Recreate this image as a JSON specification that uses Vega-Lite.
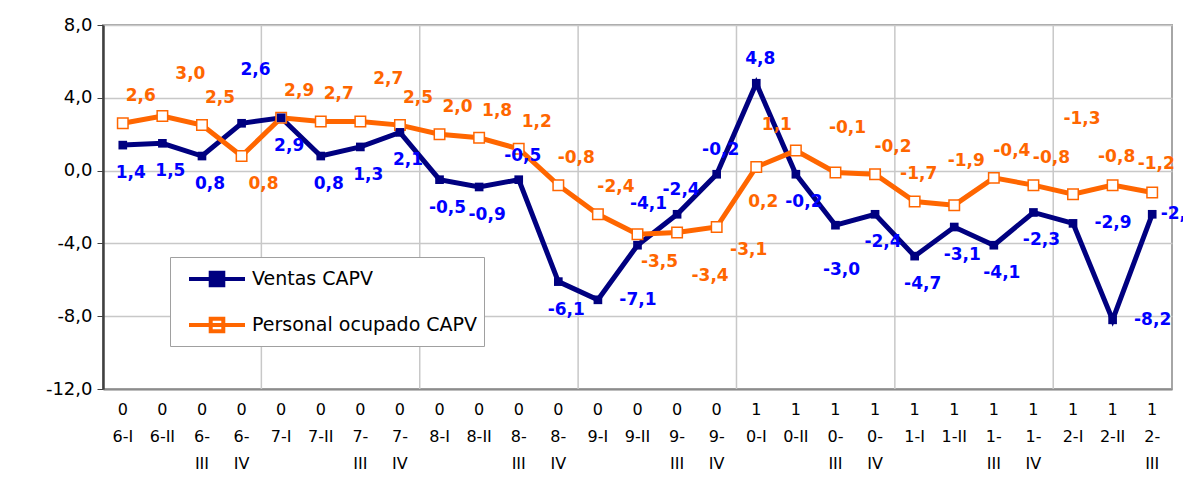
{
  "$schema": "https://vega.github.io/schema/vega-lite/v6.json",
  "width": 1069,
  "height": 364,
  "autosize": "none",
  "padding": {"left": 103, "top": 25, "right": 11, "bottom": 94},
  "background": "white",
  "config": {
    "locale": {"number": {"decimal": ",", "thousands": ".", "grouping": [3], "currency": ["", " €"], "minus": "-"}},
    "view": {"stroke": "#a6a6a6", "strokeWidth": 2},
    "font": "DejaVu Sans",
    "axis": {"labelFont": "DejaVu Sans", "labelColor": "#000000"},
    "text": {"font": "DejaVu Sans", "fontWeight": "bold", "fontSize": 17}
  },
  "data": {
    "values": [
      {"q": "06-I", "Ventas CAPV": 1.4, "Personal ocupado CAPV": 2.6},
      {"q": "06-II", "Ventas CAPV": 1.5, "Personal ocupado CAPV": 3.0},
      {"q": "06-III", "Ventas CAPV": 0.8, "Personal ocupado CAPV": 2.5},
      {"q": "06-IV", "Ventas CAPV": 2.6, "Personal ocupado CAPV": 0.8},
      {"q": "07-I", "Ventas CAPV": 2.9, "Personal ocupado CAPV": 2.9},
      {"q": "07-II", "Ventas CAPV": 0.8, "Personal ocupado CAPV": 2.7},
      {"q": "07-III", "Ventas CAPV": 1.3, "Personal ocupado CAPV": 2.7},
      {"q": "07-IV", "Ventas CAPV": 2.1, "Personal ocupado CAPV": 2.5},
      {"q": "08-I", "Ventas CAPV": -0.5, "Personal ocupado CAPV": 2.0},
      {"q": "08-II", "Ventas CAPV": -0.9, "Personal ocupado CAPV": 1.8},
      {"q": "08-III", "Ventas CAPV": -0.5, "Personal ocupado CAPV": 1.2},
      {"q": "08-IV", "Ventas CAPV": -6.1, "Personal ocupado CAPV": -0.8},
      {"q": "09-I", "Ventas CAPV": -7.1, "Personal ocupado CAPV": -2.4},
      {"q": "09-II", "Ventas CAPV": -4.1, "Personal ocupado CAPV": -3.5},
      {"q": "09-III", "Ventas CAPV": -2.4, "Personal ocupado CAPV": -3.4},
      {"q": "09-IV", "Ventas CAPV": -0.2, "Personal ocupado CAPV": -3.1},
      {"q": "10-I", "Ventas CAPV": 4.8, "Personal ocupado CAPV": 0.2},
      {"q": "10-II", "Ventas CAPV": -0.2, "Personal ocupado CAPV": 1.1},
      {"q": "10-III", "Ventas CAPV": -3.0, "Personal ocupado CAPV": -0.1},
      {"q": "10-IV", "Ventas CAPV": -2.4, "Personal ocupado CAPV": -0.2},
      {"q": "11-I", "Ventas CAPV": -4.7, "Personal ocupado CAPV": -1.7},
      {"q": "11-II", "Ventas CAPV": -3.1, "Personal ocupado CAPV": -1.9},
      {"q": "11-III", "Ventas CAPV": -4.1, "Personal ocupado CAPV": -0.4},
      {"q": "11-IV", "Ventas CAPV": -2.3, "Personal ocupado CAPV": -0.8},
      {"q": "12-I", "Ventas CAPV": -2.9, "Personal ocupado CAPV": -1.3},
      {"q": "12-II", "Ventas CAPV": -8.2, "Personal ocupado CAPV": -0.8},
      {"q": "12-III", "Ventas CAPV": -2.4, "Personal ocupado CAPV": -1.2}
    ]
  },
  "transform": [{"fold": ["Ventas CAPV", "Personal ocupado CAPV"], "as": ["s", "v"]}],
  "encoding": {
    "x": {
      "field": "q", "type": "ordinal", "bandPosition": 0.5,
      "sort": ["06-I","06-II","06-III","06-IV","07-I","07-II","07-III","07-IV","08-I","08-II","08-III","08-IV","09-I","09-II","09-III","09-IV","10-I","10-II","10-III","10-IV","11-I","11-II","11-III","11-IV","12-I","12-II","12-III"],
      "scale": {"type": "band", "paddingInner": 0, "paddingOuter": 0},
      "axis": {
        "title": null, "labelAngle": 0, "grid": false, "ticks": false,
        "domainColor": "#8c8c8c", "domainWidth": 2,
        "labelFontSize": 16, "labelPadding": 12, "labelLineHeight": 27,
        "labelOverlap": false,
        "labelExpr": "(indexof(datum.value,'III')>=0 || indexof(datum.value,'IV')>=0) ? [substring(datum.value,0,1), substring(datum.value,1,3), substring(datum.value,3)] : [substring(datum.value,0,1), substring(datum.value,1)]"
      }
    },
    "y": {
      "field": "v", "type": "quantitative",
      "scale": {"domain": [-12, 8], "nice": false, "zero": false},
      "axis": {
        "title": null, "values": [-12, -8, -4, 0, 4, 8], "format": ".1f",
        "grid": true, "gridColor": "#c8c8c8", "gridWidth": 1.5,
        "domainColor": "#404040", "domainWidth": 2.5,
        "tickColor": "#404040", "tickSize": 6,
        "labelFontSize": 18, "labelPadding": 5
      }
    }
  },
  "layer": [
    {
      "transform": [{"filter": "datum.s == 'Ventas CAPV' && indexof(['07-I','08-I','09-I','10-I','11-I','12-I'], datum.q) >= 0"}],
      "mark": {"type": "rule", "color": "#c8c8c8", "strokeWidth": 1.5},
      "encoding": {
        "x": {"field": "q", "type": "ordinal", "bandPosition": 0, "sort": ["06-I","06-II","06-III","06-IV","07-I","07-II","07-III","07-IV","08-I","08-II","08-III","08-IV","09-I","09-II","09-III","09-IV","10-I","10-II","10-III","10-IV","11-I","11-II","11-III","11-IV","12-I","12-II","12-III"]},
        "y": null
      }
    },
    {
      "mark": {"type": "line", "strokeWidth": 5},
      "encoding": {
        "color": {
          "field": "s", "type": "nominal",
          "scale": {"domain": ["Ventas CAPV", "Personal ocupado CAPV"], "range": ["#000080", "#FF6600"]},
          "legend": {
            "title": null, "orient": "none", "legendX": 67, "legendY": 232,
            "symbolType": "M-2,0H2M-0.45,-0.45H0.45V0.45H-0.45Z",
            "symbolSize": 784, "symbolStrokeWidth": 4, "symbolOffset": 25,
            "labelOffset": 19, "labelFontSize": 19, "labelFont": "DejaVu Sans", "labelColor": "#000000", "labelLimit": 400,
            "padding": 6, "rowPadding": 15,
            "strokeColor": "#a0a0a0", "fillColor": "white",
            "encode": {"symbols": {"update": {"fill": {"signal": "datum.value === 'Ventas CAPV' ? '#000080' : '#ffffff'"}, "fillOpacity": {"value": 1}}}}
          }
        }
      }
    },
    {
      "transform": [{"filter": "datum.s == 'Personal ocupado CAPV'"}],
      "mark": {"type": "point", "shape": "square", "filled": true, "fill": "white", "stroke": "#FF6600", "strokeWidth": 1.5, "size": 110, "opacity": 1}
    },
    {
      "transform": [{"filter": "datum.s == 'Ventas CAPV'"}],
      "mark": {"type": "point", "shape": "square", "filled": true, "color": "#000080", "size": 75, "opacity": 1}
    },
    {
      "transform": [{"filter": "datum.s == 'Ventas CAPV' && indexof(['08-III','09-II','09-III','09-IV','10-I','06-IV','09-I','12-I','12-II','12-III','10-III'], datum.q) < 0"}],
      "mark": {"type": "text", "color": "#0000FF", "dx": 8, "dy": 28},
      "encoding": {"text": {"field": "v", "type": "quantitative", "format": ".1f"}}
    },
    {
      "transform": [{"filter": "datum.s == 'Ventas CAPV' && indexof(['08-III','09-III','09-IV','10-I'], datum.q) >= 0"}],
      "mark": {"type": "text", "color": "#0000FF", "dx": 4, "dy": -24},
      "encoding": {"text": {"field": "v", "type": "quantitative", "format": ".1f"}}
    },
    {
      "transform": [{"filter": "datum.s == 'Ventas CAPV' && datum.q == '09-II'"}],
      "mark": {"type": "text", "color": "#0000FF", "dx": 11, "dy": -41},
      "encoding": {"text": {"field": "v", "type": "quantitative", "format": ".1f"}}
    },
    {
      "transform": [{"filter": "datum.s == 'Ventas CAPV' && datum.q == '06-IV'"}],
      "mark": {"type": "text", "color": "#0000FF", "dx": 14, "dy": -53},
      "encoding": {"text": {"field": "v", "type": "quantitative", "format": ".1f"}}
    },
    {
      "transform": [{"filter": "datum.s == 'Ventas CAPV' && indexof(['09-I','12-I','12-II'], datum.q) >= 0"}],
      "mark": {"type": "text", "color": "#0000FF", "dx": 40, "dy": 0},
      "encoding": {"text": {"field": "v", "type": "quantitative", "format": ".1f"}}
    },
    {
      "transform": [{"filter": "datum.s == 'Ventas CAPV' && datum.q == '12-III'"}],
      "mark": {"type": "text", "color": "#0000FF", "dx": 27, "dy": 0},
      "encoding": {"text": {"field": "v", "type": "quantitative", "format": ".1f"}}
    },
    {
      "transform": [{"filter": "datum.s == 'Ventas CAPV' && datum.q == '10-III'"}],
      "mark": {"type": "text", "color": "#0000FF", "dx": 6, "dy": 45},
      "encoding": {"text": {"field": "v", "type": "quantitative", "format": ".1f"}}
    },
    {
      "transform": [{"filter": "datum.s == 'Personal ocupado CAPV' && indexof(['06-II','07-III','12-I','06-IV','09-II','09-III','09-IV','10-I','10-II','10-III','11-I','11-II','12-II','12-III'], datum.q) < 0"}],
      "mark": {"type": "text", "color": "#FF6600", "dx": 18, "dy": -27},
      "encoding": {"text": {"field": "v", "type": "quantitative", "format": ".1f"}}
    },
    {
      "transform": [{"filter": "datum.s == 'Personal ocupado CAPV' && indexof(['11-I','12-II','12-III'], datum.q) >= 0"}],
      "mark": {"type": "text", "color": "#FF6600", "dx": 4, "dy": -28},
      "encoding": {"text": {"field": "v", "type": "quantitative", "format": ".1f"}}
    },
    {
      "transform": [{"filter": "datum.s == 'Personal ocupado CAPV' && indexof(['06-II','07-III'], datum.q) >= 0"}],
      "mark": {"type": "text", "color": "#FF6600", "dx": 28, "dy": -42},
      "encoding": {"text": {"field": "v", "type": "quantitative", "format": ".1f"}}
    },
    {
      "transform": [{"filter": "datum.s == 'Personal ocupado CAPV' && indexof(['10-III','11-II'], datum.q) >= 0"}],
      "mark": {"type": "text", "color": "#FF6600", "dx": 12, "dy": -44},
      "encoding": {"text": {"field": "v", "type": "quantitative", "format": ".1f"}}
    },
    {
      "transform": [{"filter": "datum.s == 'Personal ocupado CAPV' && datum.q == '12-I'"}],
      "mark": {"type": "text", "color": "#FF6600", "dx": 9, "dy": -75},
      "encoding": {"text": {"field": "v", "type": "quantitative", "format": ".1f"}}
    },
    {
      "transform": [{"filter": "datum.s == 'Personal ocupado CAPV' && indexof(['06-IV','09-II'], datum.q) >= 0"}],
      "mark": {"type": "text", "color": "#FF6600", "dx": 22, "dy": 28},
      "encoding": {"text": {"field": "v", "type": "quantitative", "format": ".1f"}}
    },
    {
      "transform": [{"filter": "datum.s == 'Personal ocupado CAPV' && datum.q == '09-III'"}],
      "mark": {"type": "text", "color": "#FF6600", "dx": 33, "dy": 44},
      "encoding": {"text": {"field": "v", "type": "quantitative", "format": ".1f"}}
    },
    {
      "transform": [{"filter": "datum.s == 'Personal ocupado CAPV' && datum.q == '09-IV'"}],
      "mark": {"type": "text", "color": "#FF6600", "dx": 32, "dy": 23},
      "encoding": {"text": {"field": "v", "type": "quantitative", "format": ".1f"}}
    },
    {
      "transform": [{"filter": "datum.s == 'Personal ocupado CAPV' && datum.q == '10-I'"}],
      "mark": {"type": "text", "color": "#FF6600", "dx": 7, "dy": 35},
      "encoding": {"text": {"field": "v", "type": "quantitative", "format": ".1f"}}
    },
    {
      "transform": [{"filter": "datum.s == 'Personal ocupado CAPV' && datum.q == '10-II'"}],
      "mark": {"type": "text", "color": "#FF6600", "dx": -19, "dy": -26},
      "encoding": {"text": {"field": "v", "type": "quantitative", "format": ".1f"}}
    }
  ]
}
